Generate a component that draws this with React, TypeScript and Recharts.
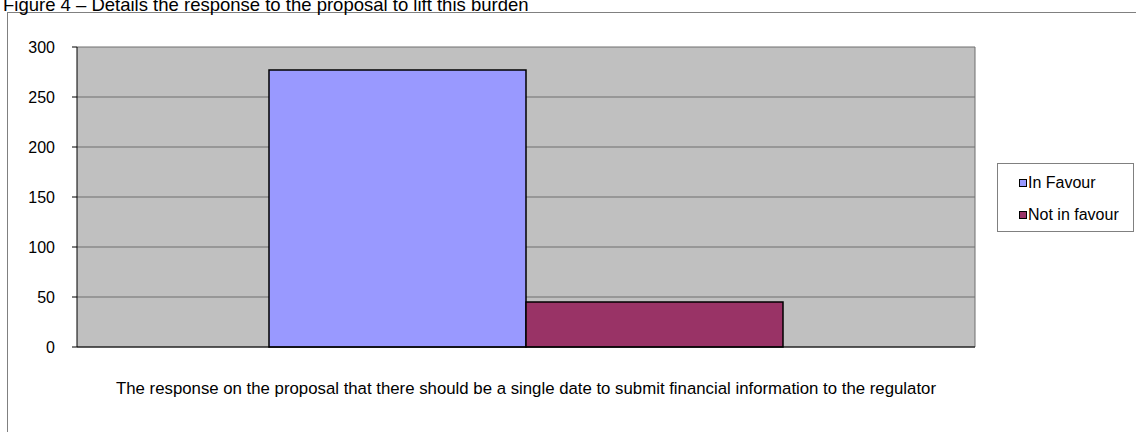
import React from 'react';
import { BarChart, Bar, XAxis, YAxis, CartesianGrid } from 'recharts';

const categories = ['The response on the proposal that there should be a single date to submit financial information to the regulator'];
const inFavour = [277];
const notInFavour = [45];
const yTicks = [0, 50, 100, 150, 200, 250, 300];
const seriesNames = ['In Favour', 'Not in favour'];
const seriesColors = ['#9999FF', '#993366'];

const data = categories.map((c, i) => ({ name: c, inFavour: inFavour[i], notInFavour: notInFavour[i] }));

const FONT = '"Liberation Sans", Arial, sans-serif';

export default function App() {
  return (
    <div style={{ position: 'absolute', left: 0, top: 0, width: 1136, height: 432, overflow: 'hidden', background: '#fff', fontFamily: FONT }}>
      <div style={{ position: 'absolute', left: 7, top: 12, width: 1200, height: 500, border: '1px solid #808080', boxSizing: 'border-box' }} />
      <div style={{ position: 'absolute', left: 3, top: -5, fontSize: 18.5, color: '#000', whiteSpace: 'nowrap', lineHeight: '20px' }}>
        Figure 4 – Details the response to the proposal to lift this burden
      </div>
      <div style={{ position: 'absolute', left: 0, top: 0 }}>
        <BarChart
          width={1136}
          height={432}
          data={data}
          margin={{ top: 47, right: 161, left: 17, bottom: 84 }}
          barGap={0}
          barCategoryGap={192}
        >
          <CartesianGrid fill="#C0C0C0" stroke="#6e6e6e" vertical={true} verticalPoints={[975]} />
          <XAxis
            dataKey="name"
            height={1}
            tickSize={0}
            tickMargin={35}
            axisLine={{ stroke: '#000' }}
            tickLine={false}
            tick={{ fill: '#000', fontSize: 16.8, fontFamily: FONT }}
            interval={0}
          />
          <YAxis
            domain={[0, 300]}
            ticks={yTicks}
            width={60}
            tickSize={5}
            tickMargin={17}
            axisLine={{ stroke: '#000' }}
            tickLine={{ stroke: '#000' }}
            tick={{ fill: '#000', fontSize: 16, fontFamily: FONT }}
            interval={0}
          />
          <Bar dataKey="inFavour" name={seriesNames[0]} fill={seriesColors[0]} stroke="#000" strokeWidth={1.5} isAnimationActive={false} />
          <Bar dataKey="notInFavour" name={seriesNames[1]} fill={seriesColors[1]} stroke="#000" strokeWidth={1.5} isAnimationActive={false} />
        </BarChart>
      </div>
      <div style={{ position: 'absolute', left: 997, top: 163, width: 137, height: 69, border: '1px solid #808080', background: '#fff', boxSizing: 'border-box', padding: '10px 0 0 21px', fontSize: 16, color: '#000' }}>
        {seriesNames.map((n, i) => (
          <div key={n} style={{ display: 'flex', alignItems: 'center', height: 18, marginBottom: i === 0 ? 14 : 0 }}>
            <span style={{ display: 'inline-block', width: 6, height: 6, background: seriesColors[i], border: '1px solid #000', marginRight: 1 }} />
            <span>{n}</span>
          </div>
        ))}
      </div>
    </div>
  );
}
